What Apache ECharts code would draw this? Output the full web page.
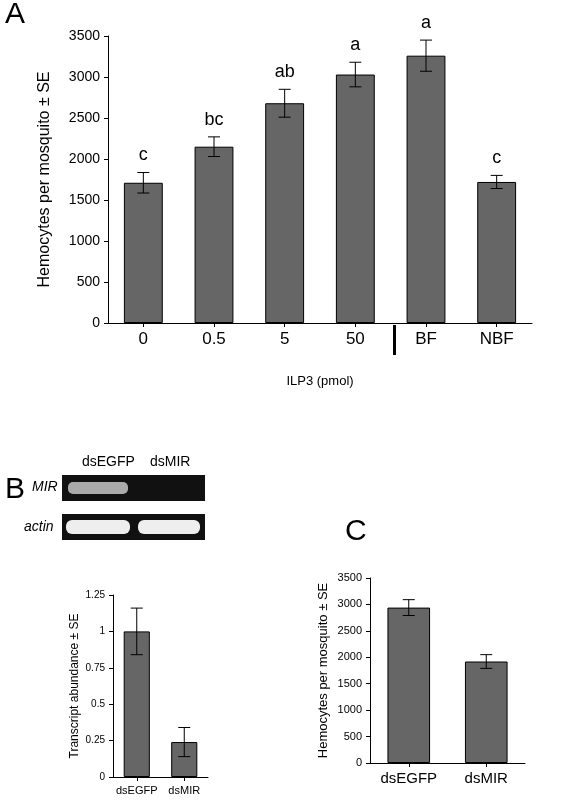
<!DOCTYPE html>
<html><head><meta charset="utf-8">
<script src="https://cdn.jsdelivr.net/npm/echarts@6/dist/echarts.min.js"></script>
<style>html,body{margin:0;padding:0;background:#fff}#c{width:564px;height:800px}</style>
</head><body><div id="c"></div>
<script>
const catsA=['0','0.5','5','50','BF','NBF'];
const valsA=[1710,2150,2680,3030,3260,1720];
const errA=[125,120,170,150,190,80];
const lettersA=['c','bc','ab','a','a','c'];
const catsB=['dsEGFP','dsMIR'];
const valsB=[1.0,0.24];
const errB=[0.16,0.1];
const catsC=['dsEGFP','dsMIR'];
const valsC=[2940,1920];
const errC=[150,130];

const chart=echarts.init(document.getElementById('c'));
const font='Liberation Sans, Arial, sans-serif';
function errSeries(xi,yi,vals,errs,lab){
  return {type:'custom',xAxisIndex:xi,yAxisIndex:yi,z:10,
    data:vals.map((v,i)=>[i,v,errs[i]]),
    renderItem:(p,api)=>{
      const x=api.value(0),v=api.value(1),e=api.value(2);
      const hi=api.coord([x,v+e]),lo=api.coord([x,v-e]);
      const w=6;
      const ch=[
        {type:'line',shape:{x1:hi[0],y1:hi[1],x2:lo[0],y2:lo[1]},style:{stroke:'#000',lineWidth:1}},
        {type:'line',shape:{x1:hi[0]-w,y1:hi[1],x2:hi[0]+w,y2:hi[1]},style:{stroke:'#000',lineWidth:1}},
        {type:'line',shape:{x1:lo[0]-w,y1:lo[1],x2:lo[0]+w,y2:lo[1]},style:{stroke:'#000',lineWidth:1}}];
      if(lab){ch.push({type:'text',x:hi[0],y:hi[1]-8,style:{text:lab[p.dataIndex],fill:'#000',font:'18px '+font,align:'center',verticalAlign:'bottom'}});}
      return {type:'group',children:ch};
    }};
}
const yAx=(gi,max,interval,fs,name,gap,fmt)=>({gridIndex:gi,min:0,max:max,interval:interval,
  name:name,nameLocation:'middle',nameGap:gap,nameTextStyle:{fontSize:fs+2,color:'#000',fontFamily:font},
  axisLine:{show:true,lineStyle:{color:'#000'}},axisTick:{show:true,inside:false,length:4,lineStyle:{color:'#000'}},
  splitLine:{show:false},axisLabel:{fontSize:fs,color:'#000',fontFamily:font,formatter:fmt||(v=>String(v))}});
const xAx=(gi,cats,fs,extra)=>Object.assign({gridIndex:gi,type:'category',data:cats,
  axisLine:{lineStyle:{color:'#000'}},axisTick:{show:true,alignWithLabel:true,length:4,lineStyle:{color:'#000'}},
  axisLabel:{fontSize:fs,color:'#000',fontFamily:font,margin:8,interval:0}},extra||{});
const barStyle={color:'#666',borderColor:'#000',borderWidth:1};
chart.setOption({
  animation:false,
  grid:[
    {left:108,top:36,width:424,height:287},
    {left:113,top:595,width:95,height:182},
    {left:370,top:578,width:155,height:185}
  ],
  xAxis:[xAx(0,catsA,17,{name:'ILP3 (pmol)',nameLocation:'middle',nameGap:52,nameTextStyle:{fontSize:13,color:'#000',fontFamily:font}}),
         xAx(1,catsB,11),xAx(2,catsC,15)],
  yAxis:[yAx(0,3500,500,14,'Hemocytes per mosquito ± SE',55),
         yAx(1,1.25,0.25,10,'Transcript abundance ± SE',32),
         yAx(2,3500,500,11,'Hemocytes per mosquito ± SE',40)],
  series:[
    {type:'bar',xAxisIndex:0,yAxisIndex:0,data:valsA,barWidth:'55%',itemStyle:barStyle},
    errSeries(0,0,valsA,errA,lettersA),
    {type:'bar',xAxisIndex:1,yAxisIndex:1,data:valsB,barWidth:'55%',itemStyle:barStyle},
    errSeries(1,1,valsB,errB),
    {type:'bar',xAxisIndex:2,yAxisIndex:2,data:valsC,barWidth:'55%',itemStyle:barStyle},
    errSeries(2,2,valsC,errC)
  ],
  graphic:[
    {type:'text',left:5,top:0,style:{text:'A',font:'30px '+font,fill:'#000'}},
    {type:'text',left:5,top:475,style:{text:'B',font:'30px '+font,fill:'#000'}},
    {type:'text',left:345,top:517,style:{text:'C',font:'30px '+font,fill:'#000'}},
    {type:'rect',shape:{x:393,y:325,width:3,height:30},style:{fill:'#000'}},
    {type:'text',left:82,top:455,style:{text:'dsEGFP',font:'14px '+font,fill:'#000'}},
    {type:'text',left:150,top:455,style:{text:'dsMIR',font:'14px '+font,fill:'#000'}},
    {type:'text',left:32,top:480,style:{text:'MIR',font:'italic 14px '+font,fill:'#000'}},
    {type:'text',left:24,top:520,style:{text:'actin',font:'italic 14px '+font,fill:'#000'}},
    {type:'rect',shape:{x:62,y:475,width:143,height:26},style:{fill:'#111'}},
    {type:'rect',shape:{x:68,y:482,width:60,height:12,r:5},style:{fill:'#aaa'}},
    {type:'rect',shape:{x:62,y:514,width:143,height:26},style:{fill:'#111'}},
    {type:'rect',shape:{x:66,y:520,width:64,height:14,r:6},style:{fill:'#eee'}},
    {type:'rect',shape:{x:138,y:520,width:62,height:14,r:6},style:{fill:'#eee'}}
  ]
});
</script></body></html>
